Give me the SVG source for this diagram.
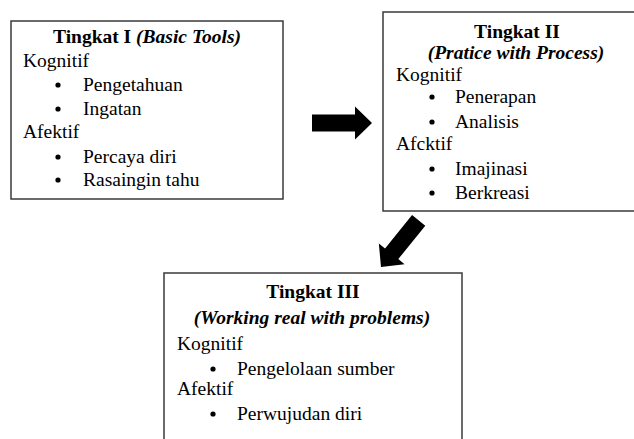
<svg xmlns="http://www.w3.org/2000/svg" width="634" height="439" viewBox="0 0 634 439">
<style>
.box{fill:#fff;stroke:#3a3a3a;stroke-width:1.5}
text{font-family:'Liberation Serif','Times New Roman',Times,serif;font-size:19.5px;fill:#000}
.t{font-weight:bold;text-anchor:middle}
.i{font-style:italic;font-weight:bold}
.b{fill:#000}
.arrow{fill:#000}
</style>
<defs>
<polygon id="arr" points="-60,-8.5 -17,-8.5 -17,-16.5 0,0 -17,16.5 -17,8.5 -60,8.5"/>
</defs>
<rect width="634" height="439" fill="#fff"/>
<g id="tingkat1">
<rect class="box" x="11" y="21" width="272" height="178"/>
<text class="t" x="147" y="43">Tingkat I <tspan class="i">(Basic Tools)</tspan></text>
<text x="23" y="67">Kognitif</text>
<circle class="b" cx="58" cy="85" r="2.6"/><text x="83" y="91">Pengetahuan</text>
<circle class="b" cx="58" cy="109" r="2.6"/><text x="83" y="115">Ingatan</text>
<text x="23" y="138">Afektif</text>
<circle class="b" cx="58" cy="157" r="2.6"/><text x="83" y="163">Percaya diri</text>
<circle class="b" cx="58" cy="180" r="2.6"/><text x="83" y="186">Rasaingin tahu</text>
</g>
<g id="tingkat2">
<rect class="box" x="383" y="12" width="270" height="199"/>
<text class="t" x="517" y="38">Tingkat II</text>
<text class="t i" x="516" y="59">(Pratice with Process)</text>
<text x="396" y="81">Kognitif</text>
<circle class="b" cx="432" cy="97" r="2.6"/><text x="455" y="103">Penerapan</text>
<circle class="b" cx="432" cy="122" r="2.6"/><text x="455" y="128">Analisis</text>
<text x="396" y="150">Afcktif</text>
<circle class="b" cx="432" cy="169" r="2.6"/><text x="455" y="175">Imajinasi</text>
<circle class="b" cx="432" cy="193" r="2.6"/><text x="455" y="199">Berkreasi</text>
</g>
<g id="tingkat3">
<rect class="box" x="164" y="273" width="298" height="180"/>
<text class="t" x="313" y="298">Tingkat III</text>
<text class="t i" x="312" y="324">(Working real with problems)</text>
<text x="177" y="350">Kognitif</text>
<circle class="b" cx="213" cy="369" r="2.6"/><text x="237" y="375">Pengelolaan sumber</text>
<text x="177" y="395">Afektif</text>
<circle class="b" cx="213" cy="414" r="2.6"/><text x="237" y="420">Perwujudan diri</text>
</g>
<g id="connectors">
<use class="arrow" href="#arr" transform="translate(372,123)"/>
<use class="arrow" href="#arr" transform="translate(381,267) rotate(128.9)"/>
</g>
</svg>
